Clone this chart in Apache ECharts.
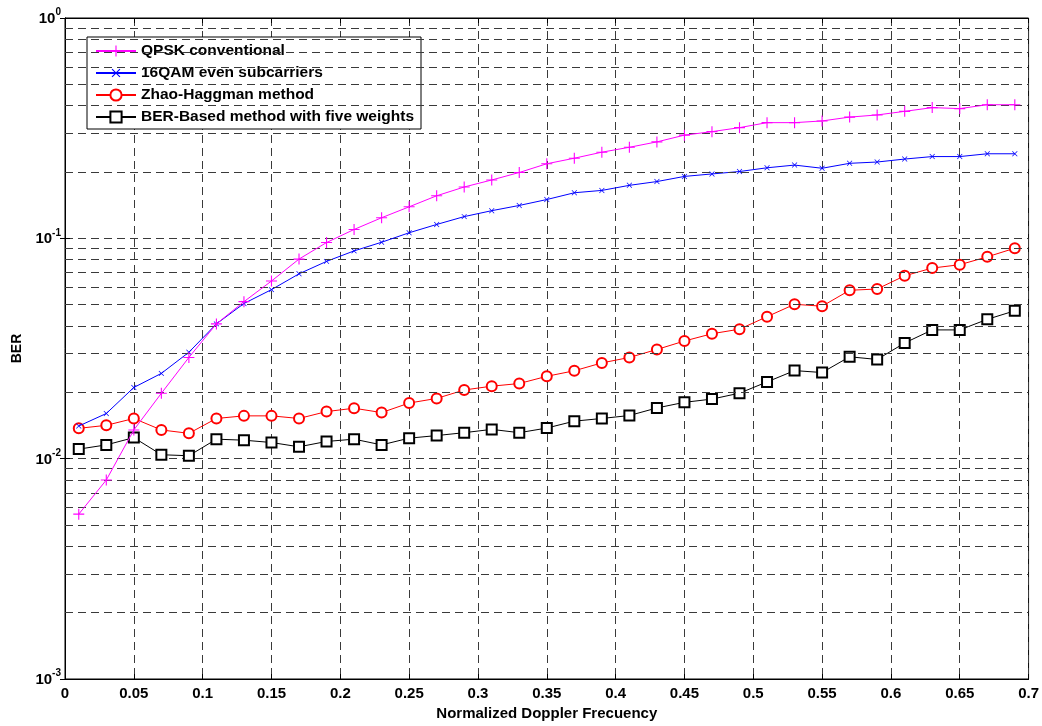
<!DOCTYPE html>
<html>
<head>
<meta charset="utf-8">
<script src="https://cdn.jsdelivr.net/npm/echarts@6/dist/echarts.min.js"></script>
<style>
html,body{margin:0;padding:0;background:#fff;}
#chart{width:1042px;height:726px;}
</style>
</head>
<body>
<div id="chart"></div>
<script>
// normalized doppler frequency points
var doppler = [0.01,0.03,0.05,0.07,0.09,0.11,0.13,0.15,0.17,0.19,0.21,0.23,0.25,0.27,0.29,0.31,0.33,0.35,
	0.37,0.39,0.41,0.43,0.45,0.47,0.49,0.51,0.53,0.55,0.57,0.59,0.61,0.63,0.65,0.67,0.69];

var qpskConv = [0.0056,0.0080,0.0135,0.0198,0.0288,0.0409,0.0516,0.0640,0.0805,0.0957,0.1097,0.124,0.139,0.156,0.171,0.184,0.199,0.218,
	0.231,0.246,0.259,0.274,0.294,0.305,0.318,0.335,0.335,0.341,0.355,0.363,0.377,0.392,0.388,0.404,0.404];
var qam16Even = [0.01406,0.01603,0.02104,0.02438,0.0304,0.0409,0.0506,0.0585,0.069,0.0786,0.0877,0.0960,0.106,0.1156,0.1255,0.1335,0.141,0.150,
	0.161,0.165,0.174,0.181,0.191,0.196,0.201,0.209,0.215,0.208,0.219,0.222,0.229,0.235,0.235,0.242,0.242];
var zhaoHaggman = [0.01373,0.01417,0.01522,0.0135,0.01303,0.01522,0.01564,0.01564,0.01522,0.01636,0.01694,0.01619,0.01788,0.01877,0.0205,0.02133,0.02193,0.02365,
	0.02506,0.0272,0.0288,0.0313,0.0342,0.0369,0.0387,0.0441,0.0502,0.0492,0.0581,0.0589,0.0676,0.0733,0.0759,0.0824,0.0902];
var berBased = [0.01105,0.01155,0.01246,0.01042,0.01031,0.01226,0.01213,0.01184,0.01132,0.01197,0.01226,0.01155,0.01239,0.01273,0.01312,0.01358,0.01312,0.01377,
	0.0148,0.01522,0.0157,0.01699,0.01802,0.01864,0.01983,0.0223,0.0251,0.0246,0.029,0.0282,0.0335,0.0384,0.0384,0.0429,0.0469];

var names = ['QPSK conventional','16QAM even subcarriers','Zhao-Haggman method','BER-Based method with five weights'];
// minor log grid lines (2..9 per decade)
var minorGrid = [0.002,0.003,0.004,0.005,0.006,0.007,0.008,0.009,0.02,0.03,0.04,0.05,0.06,0.07,0.08,0.09,0.2,0.3,0.4,0.5,0.6,0.7,0.8,0.9];

var fnt = 'Liberation Sans, Arial, sans-serif';
var plusPath = 'path://M4.5,0H5.5V4.5H10V5.5H5.5V10H4.5V5.5H0V4.5H4.5Z';
var dash = {color:'#3a3a3a', type:[8,5], width:1};

function pairs(ys){
	var out = [];
	for (var i = 0; i < doppler.length; i++) {
		out.push([doppler[i], ys[i]]);
	}
	return out;
}

var myChart = echarts.init(document.getElementById('chart'));

var option = {
	animation: false,
	backgroundColor: '#fff',
	grid: {left: 65, right: 12, top: 18, bottom: 43, show: true, borderColor: '#000', borderWidth: 1},
	legend: {
		data: names,
		orient: 'vertical',
		left: 87, top: 37,
		itemWidth: 40, itemHeight: 14, itemGap: 6,
		padding: [6, 7, 4, 8],
		backgroundColor: '#fff',
		borderColor: '#000', borderWidth: 1,
		textStyle: {fontSize: 15.5, fontWeight: 'bold', color: '#000', fontFamily: fnt}
	},
	xAxis: [
		{
			type: 'value', min: 0, max: 0.7, interval: 0.05,
			name: 'Normalized Doppler Frecuency', nameLocation: 'middle', nameGap: 27,
			nameTextStyle: {fontSize: 15, fontWeight: 'bold', color: '#000', fontFamily: fnt},
			axisLine: {lineStyle: {color: '#000'}},
			axisTick: {inside: true, length: 5, lineStyle: {color: '#000'}},
			axisLabel: {fontSize: 15, fontWeight: 'bold', color: '#000', fontFamily: fnt, margin: 7},
			splitLine: {show: true, lineStyle: dash}
		},
		{
			type: 'value', min: 0, max: 0.7, interval: 0.05, position: 'top',
			axisLine: {lineStyle: {color: '#000'}},
			axisTick: {inside: true, length: 5, lineStyle: {color: '#000'}},
			axisLabel: {show: false}, splitLine: {show: false}
		}
	],
	yAxis: [
		{
			type: 'log', logBase: 10, min: 0.001, max: 1,
			name: 'BER', nameLocation: 'middle', nameGap: 40, nameRotate: 90,
			nameTextStyle: {fontSize: 14, fontWeight: 'bold', color: '#000', fontFamily: fnt},
			axisLine: {lineStyle: {color: '#000'}},
			axisTick: {inside: true, length: 5, lineStyle: {color: '#000'}},
			axisLabel: {
				color: '#000', margin: 4,
				formatter: function (v) {
					var e = Math.round(Math.log(v) / Math.LN10);
					return '{b|10}{s|' + e + '}';
				},
				rich: {
					b: {fontSize: 15, fontWeight: 'bold', color: '#000', fontFamily: fnt, padding: [2, 0, 0, 0]},
					s: {fontSize: 10, fontWeight: 'bold', color: '#000', fontFamily: fnt, padding: [0, 0, 11, 0]}
				}
			},
			splitLine: {show: true, lineStyle: dash}
		},
		{
			type: 'log', logBase: 10, min: 0.001, max: 1, position: 'right',
			axisLine: {lineStyle: {color: '#000'}},
			axisTick: {inside: true, length: 5, lineStyle: {color: '#000'}},
			axisLabel: {show: false}, splitLine: {show: false}
		}
	],
	series: [
		{
			name: names[0], type: 'line', data: pairs(qpskConv),
			symbol: plusPath, symbolSize: 11,
			lineStyle: {color: '#ff00ff', width: 1},
			itemStyle: {color: '#ff00ff', borderWidth: 0},
			markLine: {
				silent: true, symbol: ['none', 'none'], label: {show: false},
				lineStyle: dash, emphasis: {disabled: true},
				data: minorGrid.map(function (v) { return [{coord: [0, v]}, {coord: [0.7, v]}]; })
			},
			z: 5
		},
		{
			name: names[1], type: 'line', data: pairs(qam16Even),
			symbol: plusPath, symbolSize: 7, symbolRotate: 45,
			lineStyle: {color: '#0000ff', width: 1},
			itemStyle: {color: '#0000ff', borderWidth: 0},
			z: 4
		},
		{
			name: names[2], type: 'line', data: pairs(zhaoHaggman),
			symbol: 'emptyCircle', symbolSize: 10,
			lineStyle: {color: '#ff0000', width: 1},
			itemStyle: {color: '#ff0000', borderColor: '#ff0000', borderWidth: 1},
			z: 3
		},
		{
			name: names[3], type: 'line', data: pairs(berBased),
			symbol: 'emptyRect', symbolSize: 10,
			lineStyle: {color: '#000000', width: 1},
			itemStyle: {color: '#000000', borderColor: '#000000', borderWidth: 1},
			z: 2
		}
	]
};

myChart.setOption(option);
</script>
</body>
</html>
